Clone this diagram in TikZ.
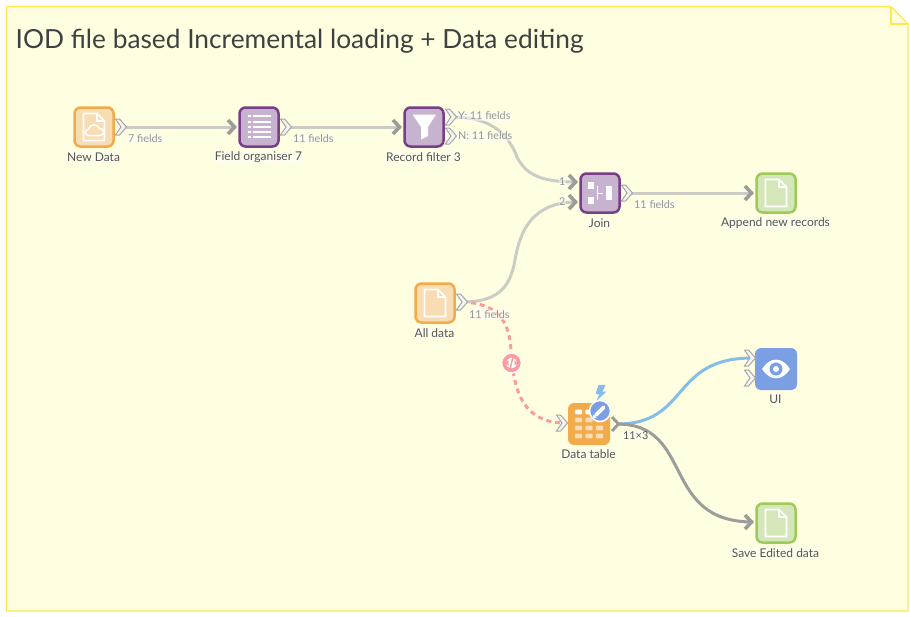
\documentclass[tikz,border=0pt]{standalone}
\usepackage{fontspec}
\setmainfont{Lato}
\usetikzlibrary{calc}
\definecolor{notebg}{HTML}{FFFEE0}
\definecolor{noteline}{HTML}{FFE84F}
\definecolor{orbd}{HTML}{F2AB4A}
\definecolor{orfl}{HTML}{F8DCB4}
\definecolor{pubd}{HTML}{763F88}
\definecolor{pufl}{HTML}{C7B2D0}
\definecolor{grbd}{HTML}{9CCB5C}
\definecolor{grfl}{HTML}{D5E7B8}
\definecolor{bluebox}{HTML}{7B9FE3}
\definecolor{edgec}{HTML}{CCCCC4}
\definecolor{chev}{HTML}{9C9C9C}
\definecolor{pinkc}{HTML}{FB9C9C}
\definecolor{skyc}{HTML}{85BDEA}
\definecolor{txt}{HTML}{555555}
\tikzset{
 x=1pt,y=-1pt,
 widget/.style={rounded corners=6pt,minimum size=#1,inner sep=0pt,outer sep=0pt},
 orbox/.style={widget=39pt,draw=orbd,fill=orfl,line width=2.5pt},
 pubox/.style={widget=39pt,draw=pubd,fill=pufl,line width=2.5pt},
 grbox/.style={widget=39pt,draw=grbd,fill=grfl,line width=2.5pt},
 flatbox/.style={widget=42pt,fill=#1},
 wlabel/.style={font=\fontsize{12}{14}\selectfont,text=txt,inner sep=0.5pt,fill=white,fill opacity=.45,text opacity=1},
 chlabel/.style={font=\fontsize{10.8}{12}\selectfont,text=chev!95!black,inner sep=0.5pt,anchor=west,fill=white,fill opacity=.45,text opacity=1},
 edge/.style={draw=edgec,line width=3pt},
 pics/outchev/.style={code={\draw[fill=white!92!gray,draw=chev!90,line width=1pt,line join=miter] (0.5,-8)--(4.5,-8)--(11.5,0)--(4.5,8)--(0.5,8)--(6,0)--cycle;}},
 pics/inchev/.style={code={\draw[chev,line width=3.6pt,line join=miter] (-8,-7)--(-1.5,0)--(-8,7);}},
 pics/fileicon/.style={code={\draw[white,line width=1.6pt,line join=miter] (-10.5,-13.5)--(3,-13.5)--(10.5,-6)--(10.5,13.5)--(-10.5,13.5)--cycle (3,-13.5)--(3,-6)--(10.5,-6);}},
}
\begin{document}
\begin{tikzpicture}
\useasboundingbox (0,0) rectangle (910,616);
% note
\draw[noteline,fill=notebg,line width=1.3pt] (6.5,6.5)--(891,6.5)--(908,24)--(908,611)--(6.5,611)--cycle;
\draw[noteline,line width=1.3pt] (891,6.5)--(891,24)--(908,24);
\node[anchor=west,inner sep=0pt,text=black!75,font=\fontsize{26.3}{30}\selectfont] (title) at (15.5,41) {IOD file based Incremental loading + Data editing};
% widgets
\node[orbox] (newdata) at (94,127) {};
\node[pubox] (organiser) at (259,127) {};
\node[pubox] (rfilter) at (424,127) {};
\node[pubox] (join) at (600,193) {};
\node[grbox] (append) at (776,193) {};
\node[orbox] (alldata) at (435,303) {};
\node[flatbox=orbd] (table) at (589,424) {};
\node[flatbox=bluebox] (ui) at (776,369) {};
\node[grbox] (save) at (776,523) {};
% ports
\coordinate (newdata-o) at (121,127);
\coordinate (org-i) at (236,127);
\coordinate (org-o) at (286,127);
\coordinate (rf-i) at (401,127);
\coordinate (rf-y) at (451,117);
\coordinate (join-a) at (577,182);
\coordinate (join-b) at (577,202);
\coordinate (join-o) at (627,193);
\coordinate (app-i) at (753,193);
\coordinate (all-o) at (462,302);
\coordinate (tab-i) at (566,423);
\coordinate (tab-o) at (617,424);
\coordinate (ui-a) at (752,358);
\coordinate (save-i) at (753,522);
% connectors
\draw[edge] (newdata-o) -- (org-i);
\draw[edge] (org-o) -- (rf-i);
\draw[edge] (rf-y) .. controls (480,117) and (505,125) .. (517,157) .. controls (527,177) and (545,182) .. (join-a);
\draw[edge] (all-o) .. controls (495,302) and (510,290) .. (515,260) .. controls (520,230) and (533,202) .. (join-b);
\draw[edge] (join-o) -- (app-i);
\draw[draw=pinkc,line width=3pt,dash pattern=on 5pt off 4pt] (all-o) .. controls (495,303) and (509,318) .. (511,350) .. controls (513.5,395) and (525,423) .. (tab-i);
\draw[draw=skyc,line width=3pt] (tab-o) .. controls (690,424) and (670,358) .. (ui-a);
\draw[draw=chev,line width=3pt] (tab-o) .. controls (695,424) and (660,522) .. (save-i);
% output chevrons
\pic at (115,127) {outchev};
\pic at (280,127) {outchev};
\pic at (445,117) {outchev};
\pic at (445,136) {outchev};
\pic at (621,193) {outchev};
\pic at (456,302) {outchev};
\pic at (556,423) {outchev};
\pic at (744,358) {outchev};
\pic at (744,378) {outchev};
% input chevrons
\pic at (org-i) {inchev};
\pic at (rf-i) {inchev};
\pic at (join-a) {inchev};
\pic at (join-b) {inchev};
\pic at (app-i) {inchev};
\pic at (save-i) {inchev};
\draw[chev,line width=3pt,line join=miter] (612,417)--(618.5,424)--(612,431);
% icons
\pic at (newdata) {fileicon};
\draw[white,line width=1.5pt] (89,135.5) .. controls (84,135.5) and (84,129.5) .. (88.5,129.5) .. controls (89,124) and (98,123) .. (99.5,128.5) .. controls (104.5,128) and (105.5,135.5) .. (100,135.5) -- cycle;
\pic at (alldata) {fileicon};
\pic at (append) {fileicon};
\pic at (save) {fileicon};
\foreach \yy in {116,121.5,127,132,137}{
 \fill[white] (248,\yy-1) rectangle (250.5,\yy+1);
 \fill[white] (253,\yy-1) rectangle (270.5,\yy+1);
}
\fill[white] (412.5,114.5)--(436,114.5)--(428,127)--(428,136)--(421,139.5)--(421,127)--cycle;
\fill[white] (588,182) rectangle (594,189);
\fill[white] (588,197) rectangle (594,203.5);
\fill[white] (606,186) rectangle (612,200);
\draw[white,line width=.6pt] (597,186)--(597,200) (597,193)--(603,193);
\fill[white] (762,369) .. controls (770,356.5) and (782,356.5) .. (790,369) .. controls (782,381.5) and (770,381.5) .. (762,369) -- cycle;
\fill[bluebox] (776,369) circle (6.5);
\fill[white] (776,369) circle (3);
\foreach \yy in {412,420,428,436}{
 \foreach \xx in {-10.5,0,10.5}{
  \ifdim\yy pt=412pt \def\cc{white}\else\def\cc{orfl}\fi
  \fill[\cc,rounded corners=1pt] (589+\xx-3.7,\yy-2.3) rectangle (589+\xx+3.7,\yy+2.3);
 }
}
% badge
\fill[bluebox,draw=white,line width=1.5pt] (600,411) circle (10.5);
\draw[white,line width=3.6pt,line cap=round] (596,415) -- (603.5,407.5);
\fill[white] (592.5,418.5)--(593.5,414.5)--(596.5,417.5)--cycle;
\fill[skyc] (598.5,385)--(605.5,385)--(602.5,391.5)--(606.5,391.5)--(597,400.5)--(599,394)--(595.5,394)--cycle;
% code marker
\node[circle,fill=pinkc,draw=white,line width=1.5pt,minimum size=20pt,inner sep=0pt] (codem) at (511.5,363) {};
\fill[white] (511.5,363) circle (5.5);
\draw[pinkc,line width=1.4pt] (513,357)--(510,369);
\fill[pinkc] (505.5,363)--(508.5,360.5)--(508.5,365.5)--cycle (517.5,363)--(514.5,360.5)--(514.5,365.5)--cycle;
% labels
\node[wlabel] (l1) at (93.5,157) {New Data};
\node[wlabel] (l2) at (258.5,157) {Field organiser 7};
\node[wlabel] (l3) at (423.5,157) {Record filter 3};
\node[wlabel] (l4) at (599.5,223) {Join};
\node[wlabel] (l5) at (775.5,223.5) {Append new records};
\node[wlabel] (l6) at (434.5,333) {All data};
\node[wlabel] (l7) at (588.5,454) {Data table};
\node[wlabel] (l8) at (775.5,399) {UI};
\node[wlabel] (l9) at (775.5,553) {Save Edited data};
\node[chlabel] (c1) at (127.5,139) {7 fields};
\node[chlabel] (c2) at (292.5,139) {11 fields};
\node[chlabel] (c3) at (457.5,116) {Y: 11 fields};
\node[chlabel] (c4) at (457.5,136) {N: 11 fields};
\node[chlabel] (c5) at (633.5,205) {11 fields};
\node[chlabel] (c6) at (468.5,315) {11 fields};
\node[chlabel,text=txt] (c7) at (622.5,436) {11×3};
\node[chlabel] (n1) at (558.5,182) {1};
\node[chlabel] (n2) at (558.5,202) {2};
\end{tikzpicture}
\end{document}
